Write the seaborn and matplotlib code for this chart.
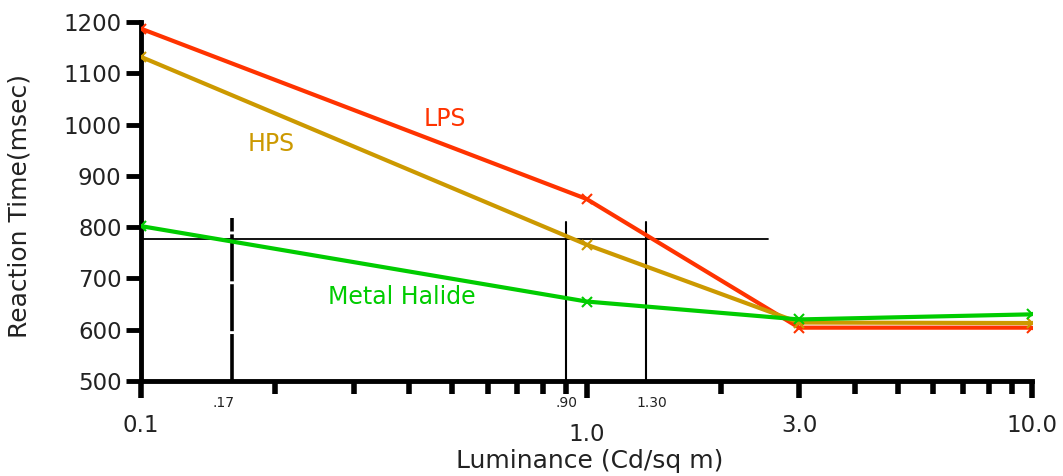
import numpy as np
import pandas as pd
import seaborn as sns
import matplotlib.pyplot as plt
from matplotlib.ticker import LogLocator, NullFormatter, FixedLocator

# data
luminance = [0.1, 1.0, 3.0, 10.0]
lps = [1187, 855, 604, 604]
hps = [1132, 766, 614, 613]
metal_halide = [802, 655, 620, 630]

series_names = ["LPS", "HPS", "Metal Halide"]
series_colors = {"LPS": "#FF3300", "HPS": "#CC9900", "Metal Halide": "#00CC00"}

# reference lines (where they sit on the chart) and their labels
ref_x = [0.16, 0.9, 1.36]
ref_labels = [".17", ".90", "1.30"]
ref_top = [818, 810, 810]
ref_level = 776
ref_level_end = 2.55

major_ticks = [0.1, 1.0, 3.0, 10.0]
major_labels = ["0.1", "1.0", "3.0", "10.0"]
y_ticks = [500, 600, 700, 800, 900, 1000, 1100, 1200]

df = pd.DataFrame({
    "Luminance": luminance * 3,
    "Reaction": lps + hps + metal_halide,
    "Lamp": [n for n in series_names for _ in luminance],
})

sns.set_style("ticks")
plt.rcParams["font.family"] = ["DejaVu Sans"]

fig = plt.figure(figsize=(10.63, 4.76), dpi=100)
ax = fig.add_axes([141 / 1063, 1 - 381 / 476, 891 / 1063, 359 / 476])

ax.set_xscale("log")
for name in series_names:
    sub = df[df["Lamp"] == name]
    sns.lineplot(data=sub, x="Luminance", y="Reaction", color=series_colors[name],
                 linewidth=3.0, marker="x", markersize=7, markeredgewidth=1.5,
                 markeredgecolor=series_colors[name], ax=ax, zorder=3)

# reference lines
ax.plot([0.1, ref_level_end], [ref_level, ref_level], color="black", lw=1.3, zorder=2)
ax.plot([ref_x[0], ref_x[0]], [500, ref_top[0]], color="black", lw=2.6,
        dashes=(13, 0.8), zorder=2)
for xv, top in zip(ref_x[1:], ref_top[1:]):
    ax.plot([xv, xv], [500, top], color="black", lw=1.5, zorder=2)

ax.set_xlim(0.1, 10)
ax.set_ylim(500, 1200)

ax.set_yticks(y_ticks)
ax.set_yticklabels([str(v) for v in y_ticks], fontsize=16.5)
ax.xaxis.set_major_locator(FixedLocator(major_ticks))
ax.xaxis.set_minor_locator(LogLocator(base=10, subs=np.arange(2, 10)))
ax.xaxis.set_major_formatter(NullFormatter())
ax.xaxis.set_minor_formatter(NullFormatter())

ax.tick_params(axis="y", length=11, width=3.5, pad=3, colors="black", labelcolor="#222222")
ax.tick_params(axis="x", which="major", length=12, width=4, colors="black")
ax.tick_params(axis="x", which="minor", length=9, width=4, colors="black")

for side in ["top", "right"]:
    ax.spines[side].set_visible(False)
for side in ["left", "bottom"]:
    ax.spines[side].set_linewidth(3.5)
    ax.spines[side].set_color("black")
ax.set_xlabel("")
ax.set_ylabel("")

xt = ax.get_xaxis_transform()
for xv, lab in zip(major_ticks, major_labels):
    yoff = -0.15 if lab == "1.0" else -0.125
    ax.text(xv, yoff, lab, transform=xt, ha="center", va="center",
            fontsize=16.5, color="#222222", clip_on=False)
for xv, lab in zip([0.153, 0.9, 1.40], ref_labels):
    ax.text(xv, -0.061, lab, transform=xt, ha="center", va="center",
            fontsize=10, color="#222222", clip_on=False)

# curve labels
ax.text(0.482, 1011, "LPS", color=series_colors["LPS"], fontsize=17, ha="center", va="center")
ax.text(0.196, 962, "HPS", color=series_colors["HPS"], fontsize=17, ha="center", va="center")
ax.text(0.385, 664, "Metal Halide", color=series_colors["Metal Halide"], fontsize=17,
        ha="center", va="center")

fig.text(20 / 1063, 1 - 206 / 476, "Reaction Time(msec)", rotation=90, ha="center",
         va="center", fontsize=18, color="#222222")
fig.text(590 / 1063, 1 - 461 / 476, "Luminance (Cd/sq m)", ha="center", va="center",
         fontsize=18, color="#222222")

plt.savefig("out.png", dpi=100)
